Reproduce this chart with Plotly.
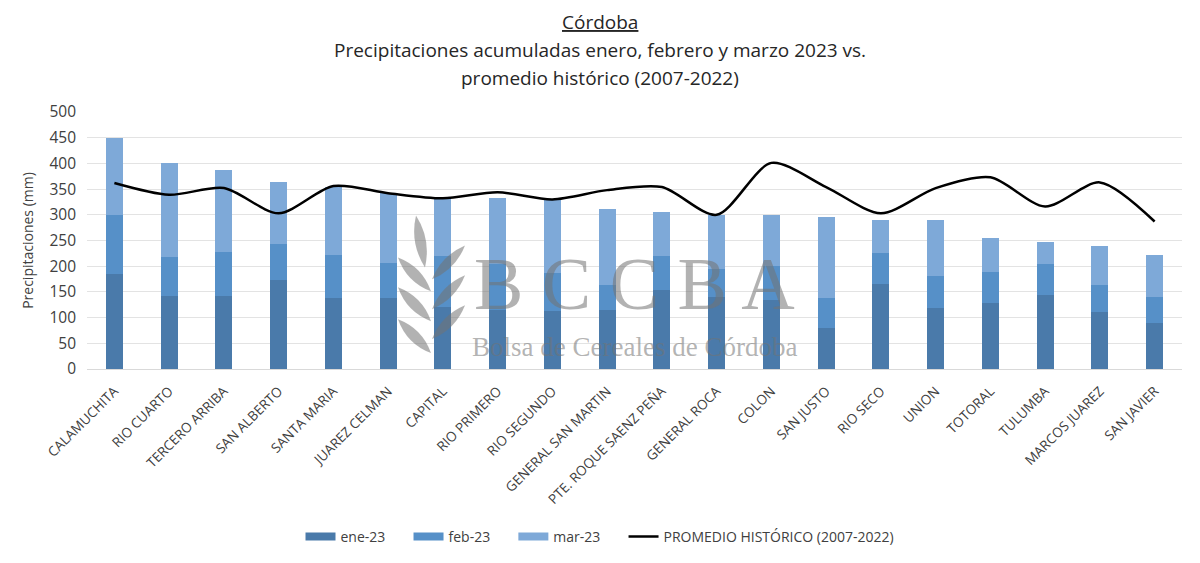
import math
import plotly.graph_objects as go

departamentos = ["CALAMUCHITA", "RIO CUARTO", "TERCERO ARRIBA", "SAN ALBERTO", "SANTA MARIA",
                 "JUAREZ CELMAN", "CAPITAL", "RIO PRIMERO", "RIO SEGUNDO", "GENERAL SAN MARTIN",
                 "PTE. ROQUE SAENZ PEÑA", "GENERAL ROCA", "COLON", "SAN JUSTO", "RIO SECO",
                 "UNION", "TOTORAL", "TULUMBA", "MARCOS JUAREZ", "SAN JAVIER"]

# Monthly accumulated precipitation (mm)
ene_23 = [185, 142, 142, 174, 139, 139, 120, 115, 113, 114, 153, 140, 135, 79, 166, 119, 129, 144, 110, 89]
feb_23 = [115, 76, 85, 70, 83, 67, 100, 90, 74, 50, 66, 55, 65, 60, 60, 62, 60, 61, 53, 52]
mar_23 = [150, 182, 161, 120, 132, 137, 111, 127, 141, 147, 87, 105, 100, 156, 63, 108, 66, 43, 76, 80]
promedio = [362, 339, 352, 303, 356, 342, 332, 344, 330, 348, 354, 300, 401, 354, 303, 352, 373, 316, 363, 287]

y_ticks = [0, 50, 100, 150, 200, 250, 300, 350, 400, 450, 500]

c_ene = "#4A7AAA"
c_feb = "#5690C8"
c_mar = "#7EA9D8"

font_main = "Open Sans"
txt_col = "#404040"

fig = go.Figure()
for name, vals, col in [("ene-23", ene_23, c_ene), ("feb-23", feb_23, c_feb), ("mar-23", mar_23, c_mar)]:
    fig.add_trace(go.Bar(x=departamentos, y=vals, name=name, showlegend=False, legendgroup=name,
                         marker=dict(color=col, line=dict(width=0))))
fig.add_trace(go.Scatter(x=departamentos, y=promedio, name="PROMEDIO HISTÓRICO (2007-2022)",
                         mode="lines", showlegend=False,
                         line=dict(color="black", width=2.5, shape="spline", smoothing=0.8)))
# legend entries (wide rectangular swatches as in the original)
pad = "&nbsp;" * 5
for name, col, w in [("ene-23", c_ene, 8), ("feb-23", c_feb, 8), ("mar-23", c_mar, 8),
                     ("PROMEDIO HISTÓRICO (2007-2022)", "black", 2.5)]:
    fig.add_trace(go.Scatter(x=[None], y=[None], mode="lines", name=name + (pad if w > 3 else ""),
                             legendgroup=name, line=dict(color=col, width=w), showlegend=True))

fig.update_layout(
    width=1200, height=563,
    barmode="stack", bargap=0.69,
    plot_bgcolor="white", paper_bgcolor="white",
    margin=dict(l=87, r=18, t=112, b=193),
    font=dict(family=font_main, color=txt_col),
    showlegend=True,
    legend=dict(orientation="h", x=0.4685, xanchor="center", y=-0.647, yanchor="middle",
                font=dict(size=14, color=txt_col, family=font_main), traceorder="normal",
                itemwidth=30),
    xaxis=dict(tickangle=-45, tickfont=dict(size=13.5, color=txt_col, family=font_main),
               showgrid=False, showline=True, linecolor="#D9D9D9", linewidth=1, ticks="",
               ticklabelstandoff=8, automargin=False),
    yaxis=dict(range=[0, 500], tickvals=y_ticks, tickfont=dict(size=15.5, color=txt_col, family=font_main),
               showgrid=True, gridcolor="#E3E3E3", gridwidth=1, zeroline=False, ticks="",
               ticklabelstandoff=10, automargin=False,
               title=dict(text="Precipitaciones (mm)", font=dict(size=14, color=txt_col, family=font_main),
                          standoff=12)),
)

title_lines = ["<u>Córdoba</u>",
               "Precipitaciones acumuladas enero, febrero y marzo 2023 vs.",
               "promedio histórico (2007-2022)"]
title_y = [1.349, 1.240, 1.132]
for t, yy in zip(title_lines, title_y):
    fig.add_annotation(text=t, xref="paper", yref="paper", x=0.4685, y=yy, xanchor="center",
                       yanchor="middle", showarrow=False,
                       font=dict(size=19, color="#262626", family=font_main))

# watermark (Bolsa de Cereales de Córdoba logo)
wm_col = "rgba(115,115,115,0.55)"
fig.add_annotation(text="B C C B A", xref="paper", yref="paper", x=0.50, y=0.33,
                   xanchor="center", yanchor="middle",
                   showarrow=False, font=dict(size=74, color=wm_col, family="Liberation Serif"))
fig.add_annotation(text="Bolsa de Cereales de Córdoba", xref="paper", yref="paper", x=0.50, y=0.085,
                   xanchor="center", yanchor="middle",
                   showarrow=False, font=dict(size=27, color=wm_col, family="Liberation Serif"))

PX0, PW, PY0, PH = 87.0, 1095.0, 370.0, 258.0


def leaf_path(base, tip, width):
    bx, by = base
    tx, ty = tip
    mx, my = (bx + tx) / 2, (by + ty) / 2
    dx, dy = tx - bx, ty - by
    L = math.hypot(dx, dy)
    nx, ny = -dy / L * width, dx / L * width
    pts = [(bx, by), (mx + nx, my + ny), (tx, ty), (mx - nx, my - ny)]
    pp = [((x - PX0) / PW, (PY0 - y) / PH) for x, y in pts]
    return "M {0},{1} Q {2},{3} {4},{5} Q {6},{7} {0},{1} Z".format(
        pp[0][0], pp[0][1], pp[1][0], pp[1][1], pp[2][0], pp[2][1], pp[3][0], pp[3][1])


leaves = [((425, 268), (416, 216), 11),
          ((431, 292), (398, 258), 11), ((431, 322), (398, 288), 11), ((431, 354), (398, 320), 11),
          ((432, 280), (465, 246), 10), ((432, 310), (465, 276), 10), ((432, 340), (465, 306), 10)]
for b, t, w in leaves:
    fig.add_shape(type="path", xref="paper", yref="paper", path=leaf_path(b, t, w),
                  fillcolor=wm_col, line=dict(width=0), layer="above")

fig.write_html("out.html")
